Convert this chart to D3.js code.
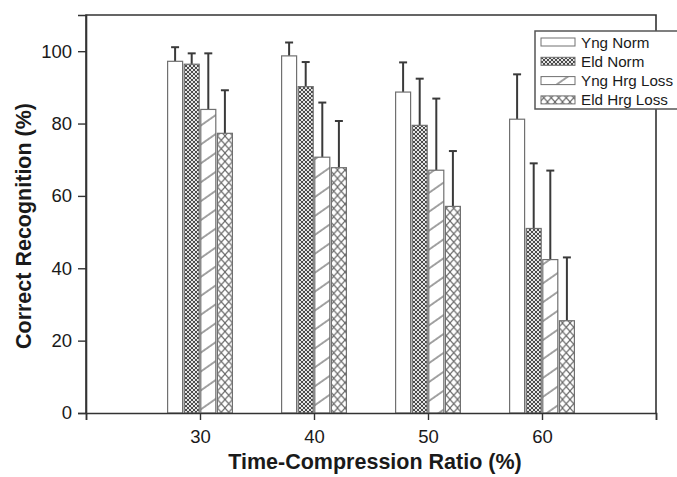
<!DOCTYPE html>
<html>
<head>
<meta charset="utf-8">
<script src="https://cdn.jsdelivr.net/npm/d3@7"></script>
<style>
  html, body { margin: 0; padding: 0; background: #fff; }
  svg { display: block; }
  text { font-family: "Liberation Sans", Arial, Helvetica, sans-serif; fill: #1a1a1a; }
</style>
</head>
<body>
<svg id="chart" width="677" height="477"></svg>
<script>
// ---- data ----
const categories = [30, 40, 50, 60];
const seriesNames = ["Yng Norm", "Eld Norm", "Yng Hrg Loss", "Eld Hrg Loss"];
const yngNorm    = [97.2, 98.7, 88.7, 81.2];
const yngNormErr = [3.9, 3.7, 8.2, 12.4];
const eldNorm    = [96.4, 90.2, 79.5, 51.0];
const eldNormErr = [3.0, 6.8, 12.9, 18.0];
const yngHrg     = [83.9, 70.7, 67.1, 42.4];
const yngHrgErr  = [15.5, 15.1, 19.8, 24.6];
const eldHrg     = [77.3, 67.8, 57.1, 25.5];
const eldHrgErr  = [11.9, 12.9, 15.3, 17.5];
const xTicks = [20, 30, 40, 50, 60, 70];
const xTickLabels = ["", "30", "40", "50", "60", ""];
const yTicks = [0, 20, 40, 60, 80, 100];
const xTitle = "Time-Compression Ratio (%)";
const yTitle = "Correct Recognition (%)";

const seriesValues = [yngNorm, eldNorm, yngHrg, eldHrg];
const seriesErrors = [yngNormErr, eldNormErr, yngHrgErr, eldHrgErr];

// ---- layout ----
const svg = d3.select("#chart");
const L = 86, R = 656, T = 15, B = 413;
const x = d3.scaleLinear().domain([20, 70]).range([L, R]);
const y = d3.scaleLinear().domain([0, 110]).range([B, T]);

svg.append("rect").attr("width", 677).attr("height", 477).attr("fill", "#fff");

// ---- patterns ----
const defs = svg.append("defs");
const p1 = defs.append("pattern").attr("id", "pEld").attr("patternUnits", "userSpaceOnUse")
  .attr("width", 4).attr("height", 4);
p1.append("rect").attr("width", 4).attr("height", 4).attr("fill", "#e4e4e4");
p1.append("path").attr("d", "M0,0 L4,4 M4,0 L0,4").attr("stroke", "#4a4a4a").attr("stroke-width", 1);

const p2 = defs.append("pattern").attr("id", "pYngH").attr("patternUnits", "userSpaceOnUse")
  .attr("width", 12).attr("height", 15.5).attr("patternTransform", "rotate(-35)");
p2.append("rect").attr("width", 12).attr("height", 15.5).attr("fill", "#fff");
p2.append("line").attr("x1", 0).attr("x2", 12).attr("y1", 1).attr("y2", 1)
  .attr("stroke", "#666").attr("stroke-width", 1.2);

const p3 = defs.append("pattern").attr("id", "pEldH").attr("patternUnits", "userSpaceOnUse")
  .attr("width", 7.5).attr("height", 8.5);
p3.append("rect").attr("width", 7.5).attr("height", 8.5).attr("fill", "#fff");
p3.append("path").attr("d", "M0,0 L7.5,8.5 M7.5,0 L0,8.5").attr("stroke", "#666").attr("stroke-width", 1.1);

const fills = ["#fff", "url(#pEld)", "url(#pYngH)", "url(#pEldH)"];

// ---- bars ----
const step = 1.456, bw = 1.316, capW = 0.7;
const bars = [];
seriesValues.forEach((vals, si) => {
  vals.forEach((v, ci) => {
    const c = categories[ci];
    const x0 = c + (si - 2) * step + (step - bw) / 2;
    bars.push({ si, v, e: seriesErrors[si][ci], x0, xc: x0 + bw / 2 });
  });
});

const g = svg.append("g");
g.selectAll("line.err").data(bars).enter().append("line")
  .attr("x1", d => x(d.xc)).attr("x2", d => x(d.xc))
  .attr("y1", d => y(d.v)).attr("y2", d => y(d.v + d.e))
  .attr("stroke", "#3a3a3a").attr("stroke-width", 2);
g.selectAll("line.cap").data(bars).enter().append("line")
  .attr("x1", d => x(d.xc - capW / 2)).attr("x2", d => x(d.xc + capW / 2))
  .attr("y1", d => y(d.v + d.e)).attr("y2", d => y(d.v + d.e))
  .attr("stroke", "#3a3a3a").attr("stroke-width", 2);
g.selectAll("rect.bar").data(bars).enter().append("rect")
  .attr("x", d => x(d.x0)).attr("width", d => x(d.x0 + bw) - x(d.x0))
  .attr("y", d => y(d.v)).attr("height", d => y(0) - y(d.v))
  .attr("fill", d => fills[d.si]).attr("stroke", "#707070").attr("stroke-width", 1.2);

// ---- frame ----
svg.append("path").attr("d", `M${L},${B} L${L},${T} L${R},${T} L${R},${B}`)
  .attr("fill", "none").attr("stroke", "#333").attr("stroke-width", 1.6);

// ---- axes ----
const xAxis = d3.axisBottom(x).tickValues(xTicks).tickSize(7).tickPadding(10)
  .tickFormat((d, i) => xTickLabels[i]);
const gx = svg.append("g").attr("transform", `translate(0,${B})`).call(xAxis);
gx.select(".domain").attr("stroke", "#333").attr("stroke-width", 1.6);
gx.selectAll(".tick line").attr("stroke", "#333").attr("stroke-width", 1.4);
gx.selectAll("text").attr("font-size", 18.5).attr("fill", "#1a1a1a")
  .attr("font-family", "Liberation Sans, Arial, sans-serif");

const yAxis = d3.axisLeft(y).tickValues(yTicks).tickSize(8).tickPadding(6);
const gy = svg.append("g").attr("transform", `translate(${L},0)`).call(yAxis);
gy.select(".domain").attr("stroke", "#333").attr("stroke-width", 1.6);
gy.selectAll(".tick line").attr("stroke", "#333").attr("stroke-width", 1.4);
gy.selectAll("text").attr("font-size", 18.5).attr("fill", "#1a1a1a")
  .attr("font-family", "Liberation Sans, Arial, sans-serif");

// ---- titles ----
svg.append("text").attr("x", 375).attr("y", 469).attr("text-anchor", "middle")
  .attr("font-size", 21.5).attr("font-weight", "bold").text(xTitle);
svg.append("text").attr("transform", "translate(31,226) rotate(-90)").attr("text-anchor", "middle")
  .attr("font-size", 21.5).attr("font-weight", "bold").text(yTitle);

// ---- legend ----
const lg = svg.append("g");
lg.append("rect").attr("x", 535).attr("y", 31).attr("width", 170).attr("height", 78)
  .attr("fill", "#fff").attr("stroke", "#555").attr("stroke-width", 1.5);
seriesNames.forEach((name, i) => {
  const yy = 38 + i * 19.3;
  lg.append("rect").attr("x", 541).attr("y", yy).attr("width", 34).attr("height", 8)
    .attr("fill", fills[i]).attr("stroke", "#707070").attr("stroke-width", 1);
  lg.append("text").attr("x", 581).attr("y", yy + 9.5).attr("font-size", 15.2).text(name);
});
</script>
</body>
</html>
